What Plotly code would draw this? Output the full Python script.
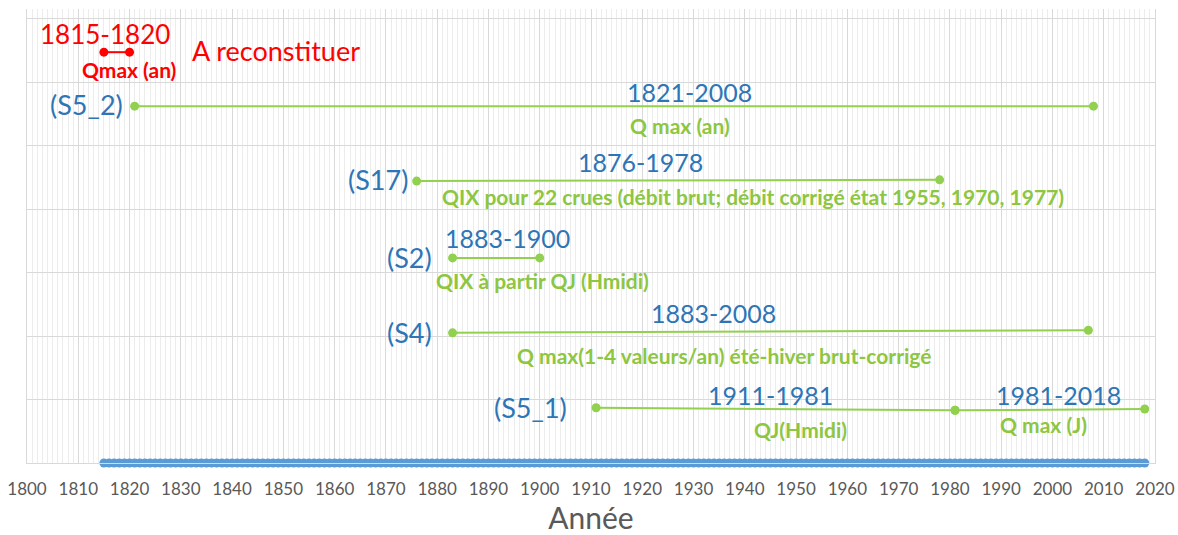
import plotly.graph_objects as go

# ---------------- data ----------------
x_min, x_max = 1800, 2020
tick_years = list(range(1800, 2021, 10))

# continuous record at the bottom (one point per year)
record_years = list(range(1815, 2019))
record_level = [0] * len(record_years)

# series segments
seg_start = [1815, 1821, 1876, 1883, 1883, 1911, 1981]
seg_end = [1820, 2008, 1978, 1900, 2007, 1981, 2018]
seg_y_start = [6.47, 5.62, 4.44, 3.23, 2.05, 0.87, 0.83]
seg_y_end = [6.47, 5.62, 4.46, 3.23, 2.09, 0.83, 0.85]
seg_kind = ["red", "green", "green", "green", "green", "green", "green"]

RED = "#FF0000"
BLUE = "#2E75B6"
GREEN = "#92D050"
GREEN_TXT = "#8DC63F"
colors = {"red": RED, "green": GREEN}

# text labels: text, year, level, anchor, colour, size, bold
labels = [
    ("1815-1820", 1815.2, 6.76, "center", RED, 26, False),
    ("Qmax (an)", 1819.9, 6.19, "center", RED, 21, True),
    ("A reconstituer", 1831.8, 6.50, "left", RED, 27, False),
    ("(S5_2)", 1819.1, 5.64, "right", BLUE, 27, False),
    ("1821-2008", 1929.3, 5.84, "center", BLUE, 25, False),
    ("Q max (an)", 1927.4, 5.31, "center", GREEN_TXT, 21, True),
    ("(S17)", 1874.7, 4.46, "right", BLUE, 27, False),
    ("1876-1978", 1919.6, 4.74, "center", BLUE, 25, False),
    ("QIX pour 22 crues (débit brut; débit corrigé état 1955, 1970, 1977)", 1880.6, 4.19, "left", GREEN_TXT, 21, True),
    ("(S2)", 1879.4, 3.23, "right", BLUE, 27, False),
    ("1883-1900", 1893.8, 3.54, "center", BLUE, 25, False),
    ("QIX à partir QJ (Hmidi)", 1879.4, 2.87, "left", GREEN_TXT, 21, True),
    ("(S4)", 1879.4, 2.06, "right", BLUE, 27, False),
    ("1883-2008", 1933.8, 2.36, "center", BLUE, 25, False),
    ("Q max(1-4 valeurs/an) été-hiver brut-corrigé", 1895.2, 1.70, "left", GREEN_TXT, 21, True),
    ("(S5_1)", 1905.7, 0.87, "right", BLUE, 27, False),
    ("1911-1981", 1945.1, 1.07, "center", BLUE, 25, False),
    ("QJ(Hmidi)", 1950.8, 0.52, "center", GREEN_TXT, 21, True),
    ("1981-2018", 2001.1, 1.07, "center", BLUE, 25, False),
    ("Q max (J)", 1998.2, 0.60, "center", GREEN_TXT, 21, True),
]

# ---------------- figure ----------------
fig = go.Figure()

fig.add_trace(go.Scatter(
    x=record_years, y=record_level, mode="lines+markers",
    line=dict(color="#5B9BD5", width=5),
    marker=dict(color="#5B9BD5", size=9),
    cliponaxis=False, showlegend=False, hoverinfo="x",
))

for s, e, ys, ye, k in zip(seg_start, seg_end, seg_y_start, seg_y_end, seg_kind):
    fig.add_trace(go.Scatter(
        x=[s, e], y=[ys, ye], mode="lines+markers",
        line=dict(color=colors[k], width=2),
        marker=dict(color=colors[k], size=9),
        showlegend=False, cliponaxis=False,
    ))

for text, xv, yv, anchor, col, size, bold in labels:
    fig.add_annotation(
        x=xv, y=yv, xref="x", yref="y", text=f"<b>{text}</b>" if bold else text,
        showarrow=False, xanchor=anchor, yanchor="middle",
        font=dict(family="Lato", size=size, color=col),
    )

fig.update_layout(
    width=1178, height=535,
    margin=dict(l=27, r=23, t=9, b=72, autoexpand=False),
    paper_bgcolor="white", plot_bgcolor="white",
    font=dict(family="Lato", color="#595959"),
    xaxis=dict(
        range=[x_min, x_max], tickvals=tick_years,
        ticktext=[str(t) for t in tick_years],
        tickfont=dict(size=17, color="#595959"),
        ticklabelstandoff=11, ticklabeloverflow="allow",
        showgrid=True, gridcolor="#d9d9d9", gridwidth=1,
        minor=dict(dtick=1, showgrid=True, gridcolor="#ececec", gridwidth=1),
        showline=True, linecolor="#d9d9d9", zeroline=False, automargin=False,
        ticks="", title=dict(text="Année", font=dict(size=30, color="#595959"), standoff=19),
    ),
    yaxis=dict(
        range=[0, 7.15], dtick=1, showticklabels=False,
        showgrid=True, gridcolor="#d9d9d9", zeroline=False,
        showline=True, linecolor="#d9d9d9", mirror=True, ticks="",
        automargin=False,
    ),
)

fig.write_html("out.html", config={"displayModeBar": False},
               post_script="document.body.style.margin='0';")
